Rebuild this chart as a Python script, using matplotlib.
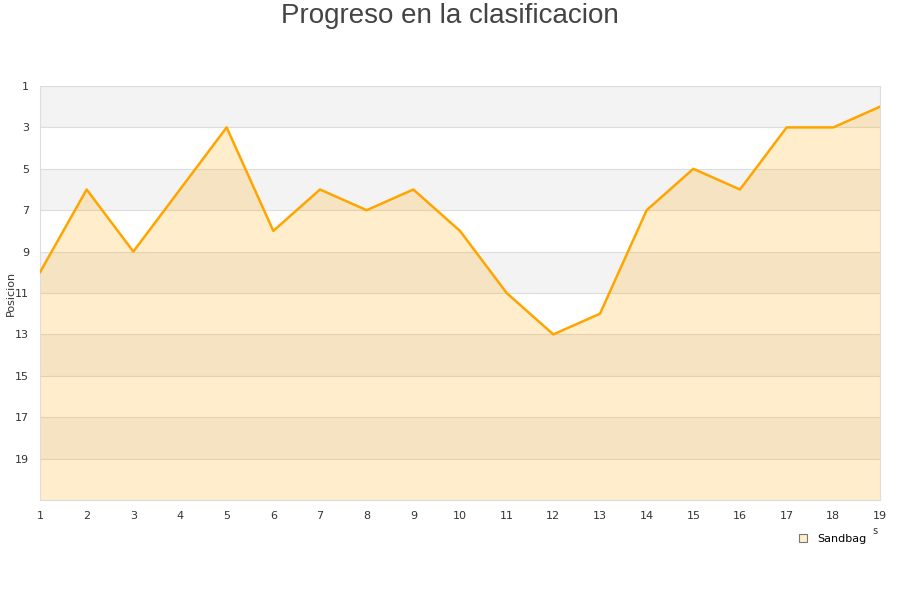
import matplotlib
matplotlib.use("Agg")
import matplotlib.pyplot as plt
from matplotlib.lines import Line2D

# jornadas y posicion de Sandbag
jornadas = list(range(1, 20))
posicion = [10, 6, 9, 6, 3, 8, 6, 7, 6, 8, 11, 13, 12, 7, 5, 6, 3, 3, 2]
y_ticks = [1, 3, 5, 7, 9, 11, 13, 15, 17, 19]
band_starts = [1, 5, 9, 13, 17]

fig = plt.figure(figsize=(9, 6), dpi=100)
ax = fig.add_axes([40 / 900, 100 / 600, 840 / 900, 414 / 600])

# alternating background bands
for b in band_starts:
    ax.axhspan(b, b + 2, color="#f3f3f3", zorder=0, lw=0)
for t in y_ticks:
    ax.axhline(t, color="#dddddd", lw=0.8, zorder=1)

ax.fill_between(jornadas, posicion, 21, color="#ffa500", alpha=0.2, lw=0, zorder=2)
ax.plot(jornadas, posicion, color="#ffa500", lw=1.8, zorder=3)

ax.set_xlim(1, 19)
ax.set_ylim(21, 1)
ax.set_xticks(jornadas)
ax.set_yticks(y_ticks)
ax.tick_params(length=0, labelsize=8, colors="#333333", pad=8)
for s in ax.spines.values():
    s.set_color("#dddddd")

fig.text(11 / 900, 1 - 293 / 600, "Posicion", fontsize=8, color="#333333",
         rotation=90, ha="center", va="center")

fig.text(0.5, 1 - 16 / 600, "Progreso en la clasificacion", fontsize=20,
         color="#444444", ha="center", va="center", family="Liberation Sans")

fig.text(875 / 900, 1 - 531 / 600, "s", fontsize=7, color="#333333", ha="center", va="center")

handle = Line2D([], [], marker="s", ls="none", markersize=6,
                markerfacecolor="#ffedcc", markeredgecolor="#777777", markeredgewidth=0.8)
fig.legend([handle], ["Sandbag"], loc="center", bbox_to_anchor=(832 / 900, 1 - 539 / 600),
           frameon=False, fontsize=8, handletextpad=0.8, handlelength=1)

fig.savefig("out.png", dpi=100)
